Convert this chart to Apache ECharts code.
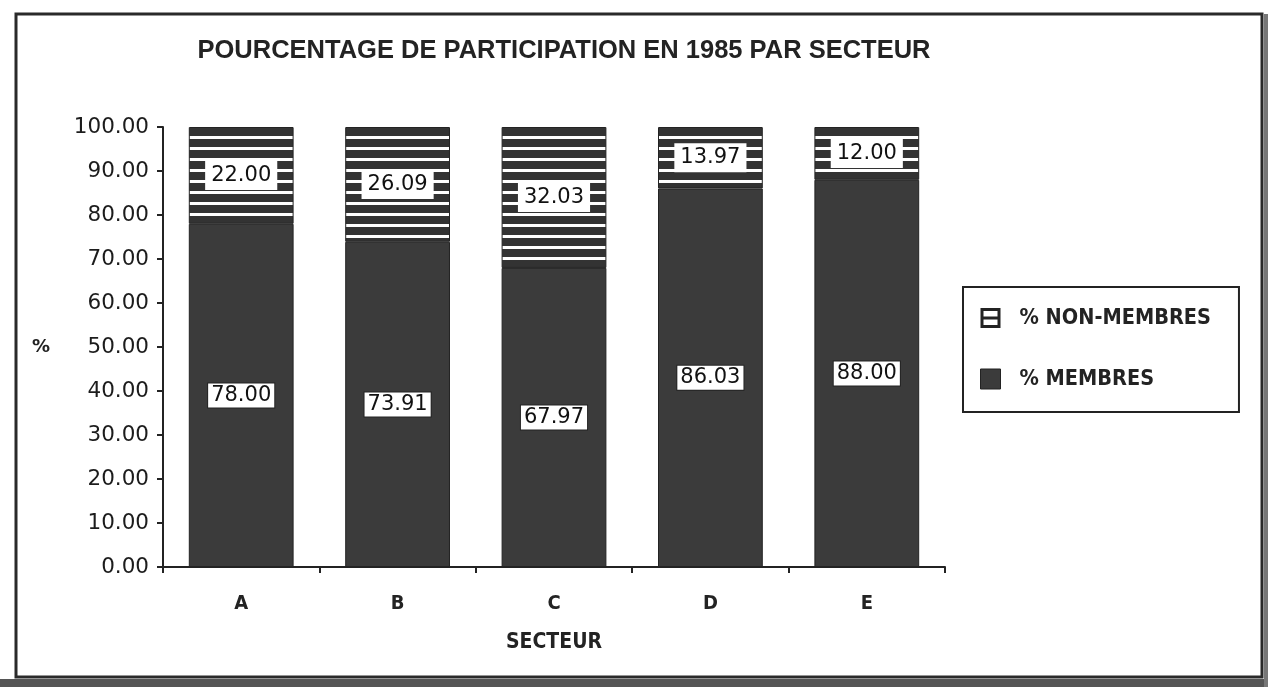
<!DOCTYPE html>
<html>
<head>
<meta charset="utf-8">
<script src="https://cdn.jsdelivr.net/npm/echarts@6/dist/echarts.min.js"></script>
<style>
  html, body { margin: 0; padding: 0; background: #ffffff; }
  #chart { width: 1268px; height: 687px; }
</style>
</head>
<body>
<div id="chart"></div>
<script>
// Participation by sector, 1985 (percent)
const secteurs = ['A', 'B', 'C', 'D', 'E'];
const membres = [78.00, 73.91, 67.97, 86.03, 88.00];
const nonMembres = [22.00, 26.09, 32.03, 13.97, 12.00];
const yTicks = [0, 10, 20, 30, 40, 50, 60, 70, 80, 90, 100];

const INK = '#232323';
const FILL = '#3b3b3b';
const NARROW_FONT = "'Liberation Sans Narrow', 'DejaVu Sans Condensed', 'Liberation Sans', sans-serif";
const TITLE_FONT = "'Liberation Sans', Arial, sans-serif";
const NUM_FONT = "'DejaVu Sans', sans-serif";

// Horizontal hatch used for the non-member segments
function hatchPattern() {
  const c = document.createElement('canvas');
  c.width = 8; c.height = 11;
  const g = c.getContext('2d');
  g.fillStyle = '#333333';
  g.fillRect(0, 0, 8, 11);
  g.fillStyle = '#ffffff';
  g.fillRect(0, 4, 8, 3);
  return c;
}

const chart = echarts.init(document.getElementById('chart'), null, { renderer: 'canvas' });

const option = {
  backgroundColor: '#ffffff',
  animation: false,
  title: {
    text: 'POURCENTAGE DE PARTICIPATION EN 1985 PAR SECTEUR',
    left: 559, top: 33, textAlign: 'center',
    textStyle: { fontFamily: TITLE_FONT, fontWeight: 'bold', fontSize: 25.5, color: INK }
  },
  grid: { left: 163, top: 127, width: 782, height: 440, containLabel: false },
  legend: {
    orient: 'vertical',
    left: 963, top: 287,
    backgroundColor: '#ffffff',
    borderColor: INK, borderWidth: 2,
    padding: [20, 28, 22, 17],
    itemWidth: 20, itemHeight: 20, itemGap: 39,
    textStyle: { fontFamily: NARROW_FONT, fontWeight: 'bold', fontSize: 21.5, color: INK, padding: [0, 0, 0, 14] },
    data: [
      {
        name: '% NON-MEMBRES',
        icon: 'path://M0,0H20V20H0Z M3,3V8.5H17V3Z M3,11.5V17H17V11.5Z',
        itemStyle: { color: INK, borderWidth: 0 }
      },
      {
        name: '% MEMBRES',
        icon: 'rect',
        itemStyle: { color: FILL, borderColor: INK, borderWidth: 1 }
      }
    ]
  },
  xAxis: {
    type: 'category',
    data: secteurs,
    name: 'SECTEUR',
    nameLocation: 'middle',
    nameGap: 65,
    nameTextStyle: { fontFamily: NARROW_FONT, fontWeight: 'bold', fontSize: 21, color: INK },
    axisLine: { lineStyle: { color: INK, width: 2 } },
    axisTick: { show: true, alignWithLabel: false, length: 6, lineStyle: { color: INK, width: 2 } },
    axisLabel: { margin: 27, fontFamily: NARROW_FONT, fontWeight: 'bold', fontSize: 20, color: INK },
    splitLine: { show: false }
  },
  yAxis: {
    type: 'value',
    min: yTicks[0], max: yTicks[yTicks.length - 1], interval: yTicks[1] - yTicks[0],
    name: '%',
    nameLocation: 'middle',
    nameRotate: 0,
    nameGap: 113,
    nameTextStyle: { fontFamily: NUM_FONT, fontWeight: 'bold', fontSize: 18, color: INK },
    axisLine: { show: true, lineStyle: { color: INK, width: 2 } },
    axisTick: { show: true, length: 6, lineStyle: { color: INK, width: 2 } },
    axisLabel: {
      margin: 14, fontFamily: NUM_FONT, fontSize: 21.5, color: '#1c1c1c',
      formatter: v => v.toFixed(2)
    },
    splitLine: { show: false }
  },
  series: [
    {
      name: '% MEMBRES',
      type: 'bar',
      stack: 'total',
      barCategoryGap: '33%',
      data: membres,
      itemStyle: { color: FILL, borderColor: INK, borderWidth: 1 },
      label: {
        show: true, position: 'inside',
        formatter: p => p.value.toFixed(2),
        fontFamily: NUM_FONT, fontSize: 21, color: '#111111',
        backgroundColor: '#ffffff', borderColor: INK, borderWidth: 1,
        padding: [2, 3, 1, 3]
      }
    },
    {
      name: '% NON-MEMBRES',
      type: 'bar',
      stack: 'total',
      data: nonMembres,
      itemStyle: { color: { image: hatchPattern(), repeat: 'repeat' }, borderColor: INK, borderWidth: 1 },
      label: {
        show: true, position: 'inside',
        formatter: p => p.value.toFixed(2),
        fontFamily: NUM_FONT, fontSize: 21, color: '#111111',
        backgroundColor: '#ffffff',
        padding: [4, 6, 4, 6]
      }
    }
  ],
  graphic: [
    // page frame
    { type: 'rect', shape: { x: 16, y: 14, width: 1246, height: 663 }, style: { fill: null, stroke: '#2a2a2a', lineWidth: 3 }, z: 10, silent: true },
    // dark margin below and right of the frame
    { type: 'rect', shape: { x: 0, y: 679, width: 1268, height: 8 }, style: { fill: '#555555' }, z: 9, silent: true },
    { type: 'rect', shape: { x: 1264, y: 14, width: 4, height: 673 }, style: { fill: '#777777' }, z: 9, silent: true }
  ]
};

chart.setOption(option);
</script>
</body>
</html>
